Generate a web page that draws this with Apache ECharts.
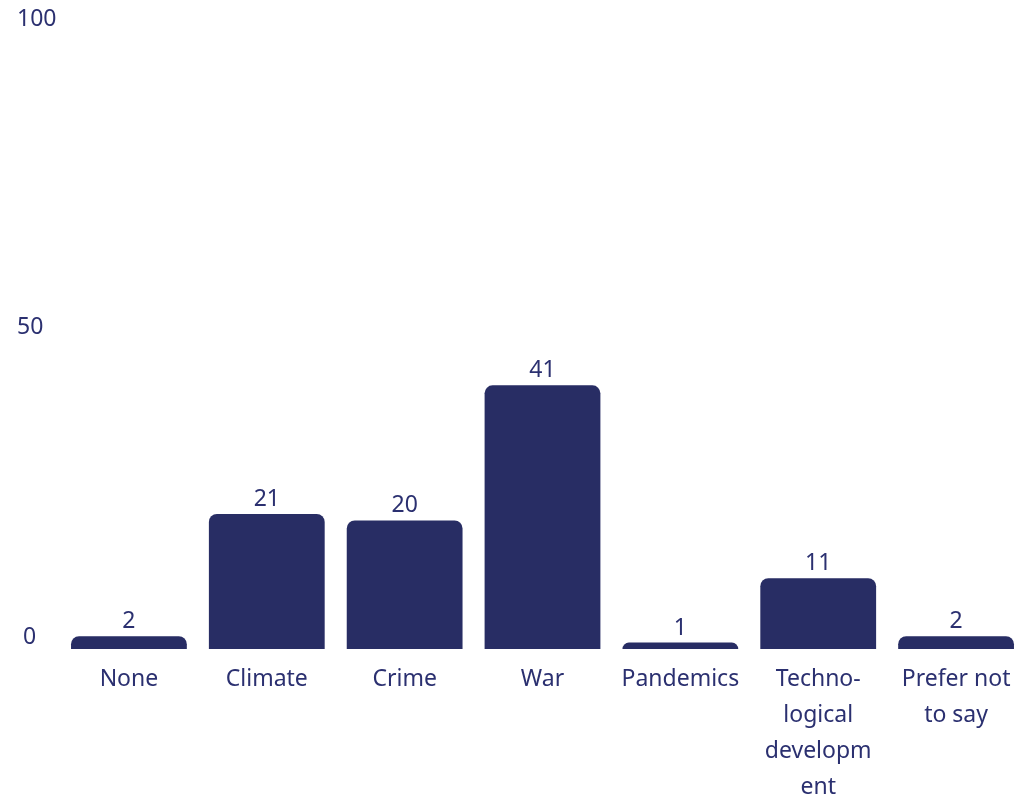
<!DOCTYPE html>
<html>
<head>
<meta charset="utf-8">
<style>
  html, body { margin: 0; padding: 0; background: #ffffff; }
  #chart { width: 1034px; height: 795px; }
</style>
<script src="https://cdn.jsdelivr.net/npm/echarts@6/dist/echarts.min.js"></script>
</head>
<body>
<div id="chart"></div>
<script>
// Survey answers: main concern about the future
const categories = ['None', 'Climate', 'Crime', 'War', 'Pandemics', 'Techno-\nlogical\ndevelopm\nent', 'Prefer not\nto say'];
const values = [2, 21, 20, 41, 1, 11, 2];
const yTicks = [0, 50, 100];

const ink = '#2b3070';
const barColor = '#282d64';
const fontFamily = '"Noto Sans", sans-serif';
const fontSize = 23;

const chart = echarts.init(document.getElementById('chart'), null, { renderer: 'canvas' });

chart.setOption({
  animation: false,
  grid: { left: 60, right: 9, top: 6, bottom: 146, containLabel: false, outerBoundsMode: 'none' },
  xAxis: {
    type: 'category',
    data: categories,
    axisLine: { show: false },
    axisTick: { show: false },
    axisLabel: {
      color: ink,
      fontFamily: fontFamily,
      fontSize: fontSize,
      lineHeight: 36,
      margin: 12,
      interval: 0,
      verticalAlign: 'top'
    }
  },
  yAxis: {
    type: 'value',
    min: yTicks[0],
    max: yTicks[yTicks.length - 1],
    interval: 50,
    splitLine: { show: false },
    axisLine: { show: false },
    axisTick: { show: false },
    axisLabel: {
      color: ink,
      fontFamily: fontFamily,
      fontSize: fontSize,
      align: 'left',
      margin: 43,
      formatter: function (v) {
        if (v === yTicks[0]) return '{low|' + v + '}';
        if (v === yTicks[yTicks.length - 1]) return '{high|' + v + '}';
        return '{mid|' + v + '}';
      },
      rich: {
        low: { color: ink, fontFamily: fontFamily, fontSize: fontSize, padding: [0, 0, 24, 6] },
        mid: { color: ink, fontFamily: fontFamily, fontSize: fontSize },
        high: { color: ink, fontFamily: fontFamily, fontSize: fontSize, padding: [26, 0, 0, 0] }
      }
    }
  },
  series: [{
    type: 'bar',
    data: values,
    barCategoryGap: '16%',
    itemStyle: { color: barColor, borderRadius: [8, 8, 0, 0] },
    label: {
      show: true,
      position: 'top',
      distance: 3,
      color: ink,
      fontFamily: fontFamily,
      fontSize: fontSize
    }
  }]
});
</script>
</body>
</html>
